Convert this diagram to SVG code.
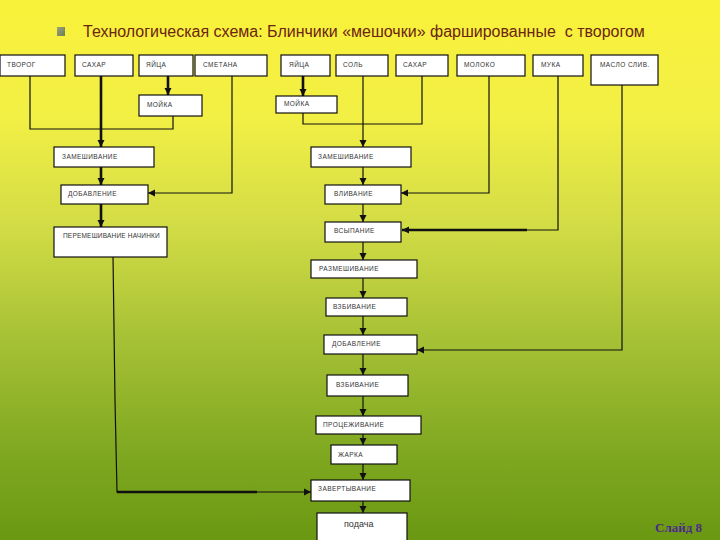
<svg xmlns="http://www.w3.org/2000/svg" width="720" height="540" viewBox="0 0 720 540">
<defs>
<linearGradient id="bg" x1="0" y1="0" x2="0" y2="1">
<stop offset="0" stop-color="#f9f23a"/>
<stop offset="0.22" stop-color="#f2ef45"/>
<stop offset="0.42" stop-color="#d2dc45"/>
<stop offset="0.62" stop-color="#a8c236"/>
<stop offset="0.82" stop-color="#82aa22"/>
<stop offset="1" stop-color="#6a9812"/>
</linearGradient>
<linearGradient id="bul" x1="0" y1="0" x2="1" y2="1">
<stop offset="0" stop-color="#9aa080"/>
<stop offset="1" stop-color="#6e8050"/>
</linearGradient>
<marker id="ar" markerUnits="userSpaceOnUse" markerWidth="8" markerHeight="8" refX="7" refY="4" orient="auto">
<path d="M0,0.5 L7,4 L0,7.5 Z" fill="#111"/>
</marker>
<style>
.b{fill:#fff;stroke:#111;stroke-width:1.2}
.t{font-family:"Liberation Sans",Arial,sans-serif;font-size:6.5px;letter-spacing:0.45px;fill:#333}
.c{fill:none;stroke:#111;stroke-width:1.2}
.k{fill:none;stroke:#111;stroke-width:2.6}
</style>
</defs>
<rect width="720" height="540" fill="url(#bg)"/>
<rect x="57" y="27" width="8" height="9" fill="url(#bul)"/>
<text x="83" y="37" xml:space="preserve" font-family="'Liberation Sans',Arial,sans-serif" font-size="16" fill="#6b2512">Технологическая схема: Блинчики «мешочки» фаршированные  с творогом</text>

<g id="connectors">
<path class="c" d="M30,76 V129 H173 V116"/>
<path class="k" d="M101,76 V147" marker-end="url(#ar)"/>
<path class="k" d="M168,76 V95" marker-end="url(#ar)"/>
<path class="c" d="M232,76 V193 H148" marker-end="url(#ar)"/>
<path class="k" d="M101,167 V185" marker-end="url(#ar)"/>
<path class="k" d="M101,204 V227" marker-end="url(#ar)"/>
<path class="c" d="M113,256 L115,400 L117,492 H311" marker-end="url(#ar)"/>
<path class="k" d="M117,492 H257"/>
<path class="k" d="M303,76 V96" marker-end="url(#ar)"/>
<path class="c" d="M303,112 V124 H422 V76"/>
<path class="c" d="M363,76 V147" marker-end="url(#ar)"/>
<path class="c" d="M363,167 V185" marker-end="url(#ar)"/>
<path class="c" d="M489,76 V193 H401" marker-end="url(#ar)"/>
<path class="c" d="M363,204 V222" marker-end="url(#ar)"/>
<path class="c" d="M558,76 V230 H527"/>
<path class="k" d="M527,230 H402" marker-end="url(#ar)"/>
<path class="c" d="M363,242 V260" marker-end="url(#ar)"/>
<path class="c" d="M363,278 V298" marker-end="url(#ar)"/>
<path class="c" d="M622,85 V350 H417" marker-end="url(#ar)"/>
<path class="c" d="M363,316 V335" marker-end="url(#ar)"/>
<path class="c" d="M363,354 V375" marker-end="url(#ar)"/>
<path class="c" d="M363,396 V416" marker-end="url(#ar)"/>
<path class="c" d="M363,434 V445" marker-end="url(#ar)"/>
<path class="c" d="M363,464 V480" marker-end="url(#ar)"/>
<path class="c" d="M363,501 V513" marker-end="url(#ar)"/>
</g>

<g id="n-tvorog"><rect class="b" x="0" y="55" width="65" height="21"/><text class="t" x="7" y="67">ТВОРОГ</text></g>
<g id="n-sahar1"><rect class="b" x="75" y="55" width="58" height="21"/><text class="t" x="82" y="67">САХАР</text></g>
<g id="n-yaica1"><rect class="b" x="139" y="55" width="54" height="21"/><text class="t" x="146" y="67">ЯЙЦА</text></g>
<g id="n-smetana"><rect class="b" x="195" y="55" width="72" height="21"/><text class="t" x="203" y="67">СМЕТАНА</text></g>
<g id="n-yaica2"><rect class="b" x="281" y="55" width="49" height="21"/><text class="t" x="289" y="67">ЯЙЦА</text></g>
<g id="n-sol"><rect class="b" x="336" y="55" width="52" height="21"/><text class="t" x="343" y="67">СОЛЬ</text></g>
<g id="n-sahar2"><rect class="b" x="396" y="55" width="52" height="21"/><text class="t" x="403" y="67">САХАР</text></g>
<g id="n-moloko"><rect class="b" x="457" y="55" width="68" height="21"/><text class="t" x="464" y="67">МОЛОКО</text></g>
<g id="n-muka"><rect class="b" x="533" y="55" width="50" height="21"/><text class="t" x="541" y="67">МУКА</text></g>
<g id="n-maslo"><rect class="b" x="591" y="55" width="67" height="30"/><text class="t" x="600" y="67">МАСЛО СЛИВ.</text></g>

<g id="n-moika1"><rect class="b" x="139" y="95" width="63" height="21"/><text class="t" x="147" y="107">МОЙКА</text></g>
<g id="n-zamesh1"><rect class="b" x="54" y="147" width="100" height="20"/><text class="t" x="62" y="159">ЗАМЕШИВАНИЕ</text></g>
<g id="n-dobav1"><rect class="b" x="61" y="185" width="87" height="19"/><text class="t" x="68" y="196">ДОБАВЛЕНИЕ</text></g>
<g id="n-peremesh"><rect class="b" x="54" y="227" width="113" height="30"/><text class="t" x="63" y="238" style="letter-spacing:0.2px">ПЕРЕМЕШИВАНИЕ НАЧИНКИ</text></g>

<g id="n-moika2"><rect class="b" x="276" y="96" width="61" height="17"/><text class="t" x="284" y="106">МОЙКА</text></g>
<g id="n-zamesh2"><rect class="b" x="311" y="147" width="100" height="20"/><text class="t" x="318" y="159">ЗАМЕШИВАНИЕ</text></g>
<g id="n-vliv"><rect class="b" x="325" y="185" width="76" height="19"/><text class="t" x="334" y="196">ВЛИВАНИЕ</text></g>
<g id="n-vsyp"><rect class="b" x="325" y="222" width="76" height="20"/><text class="t" x="334" y="233">ВСЫПАНИЕ</text></g>
<g id="n-razmesh"><rect class="b" x="311" y="260" width="106" height="18"/><text class="t" x="319" y="271">РАЗМЕШИВАНИЕ</text></g>
<g id="n-vzbiv1"><rect class="b" x="326" y="298" width="81" height="18"/><text class="t" x="333" y="309">ВЗБИВАНИЕ</text></g>
<g id="n-dobav2"><rect class="b" x="324" y="335" width="93" height="19"/><text class="t" x="332" y="346">ДОБАВЛЕНИЕ</text></g>
<g id="n-vzbiv2"><rect class="b" x="327" y="375" width="81" height="21"/><text class="t" x="336" y="387">ВЗБИВАНИЕ</text></g>
<g id="n-procezh"><rect class="b" x="316" y="416" width="105" height="18"/><text class="t" x="323" y="427">ПРОЦЕЖИВАНИЕ</text></g>
<g id="n-zharka"><rect class="b" x="331" y="445" width="66" height="19"/><text class="t" x="338" y="457">ЖАРКА</text></g>
<g id="n-zavert"><rect class="b" x="311" y="480" width="99" height="21"/><text class="t" x="318" y="491">ЗАВЕРТЫВАНИЕ</text></g>
<g id="n-podacha"><rect class="b" x="317" y="513" width="90" height="32"/><text x="344" y="527" font-family="'Liberation Sans',Arial,sans-serif" font-size="9" fill="#333">подача</text></g>

<text x="655" y="532" font-family="'Liberation Serif','Times New Roman',serif" font-size="13" font-weight="bold" fill="#4a2a8c">Слайд 8</text>
</svg>
